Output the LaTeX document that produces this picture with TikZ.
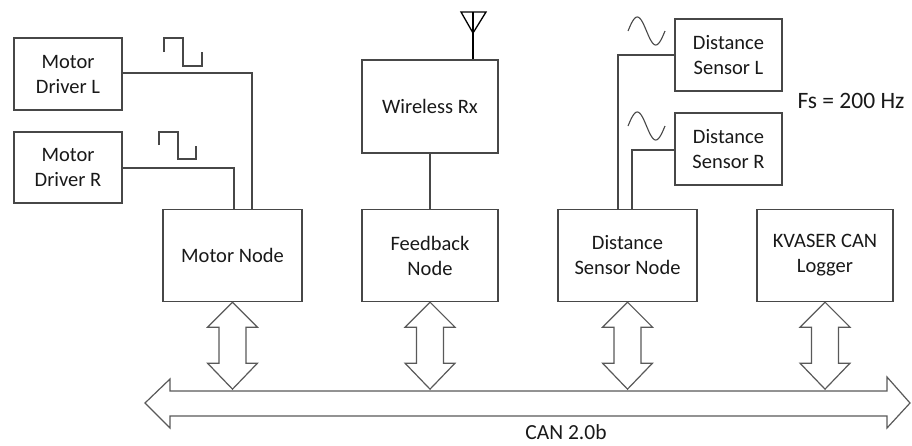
\documentclass[tikz,border=0pt]{standalone}
\usepackage{fontspec}
\setmainfont{Carlito}
\begin{document}
\begin{tikzpicture}[x=1pt,y=-1pt,
  wire/.style={draw=black!72,line width=1.3pt},
  blk/.style={draw=black!72,line width=1.3pt,fill=white,align=center,
    inner sep=0pt,text=black!90,font=\fontsize{20.5}{25}\selectfont},
  lbl/.style={text=black!90,font=\fontsize{20.5}{25}\selectfont,inner sep=0pt},
  hollow/.style={draw=black!65,line width=1.2pt,fill=white,line join=miter}]
\useasboundingbox (0,0) rectangle (912,445);

% ---- blocks ----
\node[blk,minimum width=108pt,minimum height=72pt] (mdl) at (68,74) {Motor\\Driver L};
\node[blk,minimum width=108pt,minimum height=71pt] (mdr) at (68,167.5) {Motor\\Driver R};
\node[blk,minimum width=139pt,minimum height=92pt] (mn) at (232.5,255.5) {Motor Node};
\node[blk,minimum width=136pt,minimum height=93pt] (wrx) at (430,106.5) {Wireless Rx};
\node[blk,minimum width=136pt,minimum height=92pt] (fb) at (430,255.5) {Feedback\\Node};
\node[blk,minimum width=139pt,minimum height=92pt] (dsn) at (627.5,255.5) {Distance\\Sensor Node};
\node[blk,minimum width=107pt,minimum height=72pt] (dsl) at (728.5,55) {Distance\\Sensor L};
\node[blk,minimum width=107pt,minimum height=72pt] (dsr) at (728.5,149) {Distance\\Sensor R};
\node[blk,minimum width=136pt,minimum height=92pt] (kv) at (825,255.5) {KVASER CAN\\Logger};

\node[lbl,font=\fontsize{23.5}{28}\selectfont] (fs) at (851,101) {Fs = 200 Hz};
\node[lbl,font=\fontsize{21.5}{26}\selectfont] (can) at (566,432) {CAN 2.0b};

% ---- signal wires ----
\draw[wire] (mdl.east |- 0,73) -| (252,0 |- mn.north);
\draw[wire] (mdr.east |- 0,168) -| (234,0 |- mn.north);
\draw[wire] (wrx.south) -- (fb.north);
\draw[wire] (dsl.west |- 0,55) -| (618,0 |- dsn.north);
\draw[wire] (dsr.west |- 0,150) -| (632,0 |- dsn.north);

% ---- square-wave marks ----
\draw[wire,line width=1.1pt] (164,52) -- (164,38) -- (183,38) -- (183,66) -- (202,66) -- (202,52);
\draw[wire,line width=1.1pt] (159,145) -- (159,132) -- (178,132) -- (178,159) -- (196,159) -- (196,146);

% ---- sine marks ----
\draw[wire,line width=1.1pt] plot[domain=0:1,samples=50,smooth] ({628+37*\x},{31-14*sin(360*\x)});
\draw[wire,line width=1.1pt] plot[domain=0:1,samples=50,smooth] ({628+37*\x},{126-14*sin(360*\x)});

% ---- antenna ----
\coordinate (ant) at (wrx.north -| 473,0);
\draw[draw=black,line width=1.3pt,line join=miter] (ant) -- (473,12);
\draw[draw=black,line width=1.3pt,line join=miter] (461,12) -- (486,12) -- (473,33) -- cycle;

% ---- CAN bus ----
\coordinate (busL) at (145,403);
\draw[hollow] (busL) -- (170,379) -- (170,391) -- (887,391) -- (887,377) -- (910,403)
  -- (887,428) -- (887,416) -- (170,416) -- (170,428) -- cycle;

% ---- bus taps ----
\foreach \n in {mn,fb,dsn,kv}{
  \draw[hollow] (\n.south) -- ++(25,25) -- ++(-11.5,0) -- ++(0,36) -- ++(11.5,0)
    -- ++(-25,26) -- ++(-25,-26) -- ++(11.5,0) -- ++(0,-36) -- ++(-11.5,0) -- cycle;
}
\end{tikzpicture}
\end{document}
